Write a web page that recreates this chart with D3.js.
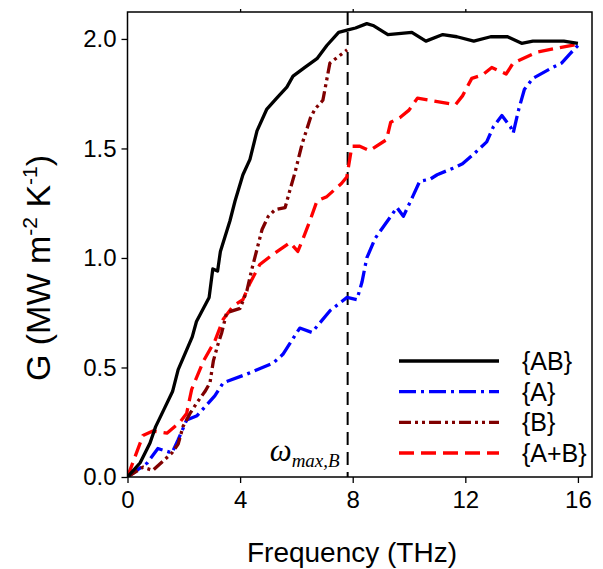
<!DOCTYPE html>
<html>
<head>
<meta charset="utf-8">
<script src="https://cdn.jsdelivr.net/npm/d3@7"></script>
<style>
  body { margin: 0; background: #fff; }
  text { font-family: "Liberation Sans", Arial, sans-serif; }
</style>
</head>
<body>
<div id="chart"></div>
<script>
(function(d3) {
  'use strict';

  // [frequency THz, G]
  var seriesAB = [[0,0],[0.45,0.065],[0.8,0.155],[1.0,0.23],[1.3,0.31],[1.6,0.39],[1.8,0.49],[2.3,0.64],[2.45,0.71],
    [2.9,0.82],[3.03,0.95],[3.2,0.94],[3.3,1.03],[3.64,1.17],[3.82,1.26],[4.1,1.38],[4.35,1.45],[4.6,1.58],[4.95,1.68],
    [5.3,1.73],[5.66,1.78],[5.88,1.83],[6.3,1.87],[6.73,1.91],[7.08,1.97],[7.5,2.03],[7.8,2.04],[8.1,2.05],[8.5,2.07],
    [8.75,2.06],[9.25,2.02],[10.1,2.03],[10.6,1.99],[11.2,2.02],[11.7,2.01],[12.3,1.99],[12.9,2.01],[13.5,2.01],
    [14.0,1.98],[14.4,1.99],[15.0,1.99],[15.5,1.99],[16.0,1.98]];
  var seriesA = [[0,0],[0.7,0.064],[1.08,0.13],[1.58,0.11],[1.8,0.17],[2.1,0.26],[2.47,0.28],[3.1,0.37],[3.4,0.43],
    [4.24,0.47],[5.17,0.52],[5.52,0.56],[6.12,0.68],[6.55,0.66],[7.2,0.76],[7.8,0.82],[8.15,0.81],[8.33,0.89],[8.5,1.0],
    [8.8,1.09],[9.57,1.23],[9.8,1.19],[10.13,1.28],[10.38,1.35],[10.75,1.36],[11.0,1.38],[11.56,1.41],[11.9,1.43],
    [12.26,1.47],[12.76,1.53],[13.0,1.60],[13.3,1.65],[13.6,1.60],[13.7,1.57],[13.9,1.68],[14.1,1.77],[14.4,1.82],
    [15.1,1.87],[15.42,1.89],[15.7,1.93],[16.0,1.97]];
  var seriesB = [[0,0],[0.55,0.045],[0.9,0.03],[1.58,0.11],[1.8,0.15],[1.97,0.23],[2.22,0.29],[2.47,0.34],[2.75,0.39],
    [2.93,0.43],[3.05,0.53],[3.2,0.60],[3.35,0.66],[3.52,0.75],[4.0,0.77],[4.24,0.85],[4.42,0.95],[4.6,1.04],[4.78,1.13],
    [5.0,1.19],[5.24,1.22],[5.6,1.23],[5.77,1.31],[5.95,1.39],[6.2,1.52],[6.5,1.64],[6.66,1.68],[6.94,1.72],[7.19,1.89],
    [7.8,1.95]];
  var seriesAplusB = [[0,0],[0.55,0.19],[0.9,0.21],[1.4,0.20],[1.86,0.25],[2.1,0.29],[2.28,0.40],[2.7,0.53],[3.1,0.62],
    [3.4,0.72],[3.75,0.78],[4.1,0.81],[4.35,0.885],[4.7,0.97],[5.1,1.01],[5.77,1.07],[6.05,1.03],[6.24,1.09],[6.48,1.17],
    [6.73,1.26],[7.08,1.28],[7.6,1.34],[7.79,1.37],[7.97,1.51],[8.25,1.51],[8.6,1.49],[9.2,1.54],[9.35,1.62],[9.67,1.64],
    [10.0,1.675],[10.3,1.73],[11.65,1.70],[11.9,1.74],[12.23,1.82],[12.6,1.835],[12.94,1.87],[13.45,1.84],[13.7,1.89],
    [14.54,1.94],[15.95,1.975]];

  var seriesNames = ['{AB}', '{A}', '{B}', '{A+B}'];
  var xTicks = [0, 4, 8, 12, 16];
  var yTicks = [0, 0.5, 1.0, 1.5, 2.0];
  var omegaMaxB = 7.82;

  var styles = [
    { color: '#000000', dash: null },
    { color: '#0000ff', dash: '17,5,3,5' },
    { color: '#800000', dash: '12,4,3,4,3,4' },
    { color: '#ff0000', dash: '15,7' }
  ];
  var allSeries = [seriesAB, seriesA, seriesB, seriesAplusB];

  var width = 603, height = 569;
  var margin = { top: 12, right: 11, bottom: 92, left: 127.5 };

  var svg = d3.select('#chart').append('svg')
    .attr('width', width)
    .attr('height', height);

  var x = d3.scaleLinear().domain([0, 16.5]).range([margin.left, width - margin.right]);
  var y = d3.scaleLinear().domain([0, 2.123]).range([height - margin.bottom, margin.top]);

  svg.append('clipPath').attr('id', 'plotclip')
    .append('rect')
    .attr('x', margin.left).attr('y', margin.top)
    .attr('width', x.range()[1] - margin.left)
    .attr('height', y.range()[0] - margin.top);

  // vertical marker line
  svg.append('line')
    .attr('x1', x(omegaMaxB)).attr('x2', x(omegaMaxB))
    .attr('y1', y.range()[1]).attr('y2', y.range()[0])
    .attr('stroke', '#000').attr('stroke-width', 2)
    .attr('stroke-dasharray', '13,7');

  var line = d3.line()
    .x(function(d) { return x(d[0]); })
    .y(function(d) { return y(d[1]); });

  var plot = svg.append('g').attr('clip-path', 'url(#plotclip)');
  // draw order: A, A+B, B, AB on top
  [1, 3, 2, 0].forEach(function(i) {
    plot.append('path')
      .datum(allSeries[i])
      .attr('d', line)
      .attr('fill', 'none')
      .attr('stroke', styles[i].color)
      .attr('stroke-width', 3.3)
      .attr('stroke-linejoin', 'round')
      .attr('stroke-dasharray', styles[i].dash);
  });

  // axes
  var xAxis = svg.append('g')
    .attr('transform', 'translate(0,' + y.range()[0] + ')')
    .call(d3.axisBottom(x).tickValues(xTicks).tickSize(6).tickPadding(8).tickFormat(d3.format('d')));
  var xTop = svg.append('g')
    .attr('transform', 'translate(0,' + margin.top + ')')
    .call(d3.axisTop(x).tickValues(xTicks.slice(1, 4)).tickSize(3).tickFormat(''));
  var yAxis = svg.append('g')
    .attr('transform', 'translate(' + margin.left + ',0)')
    .call(d3.axisLeft(y).tickValues(yTicks).tickSize(6).tickPadding(5).tickFormat(d3.format('.1f')));

  [xAxis, xTop, yAxis].forEach(function(a) {
    a.select('.domain').remove();
    a.selectAll('.tick line').attr('stroke', '#000').attr('stroke-width', 1.3);
    a.selectAll('text').attr('fill', '#000').style('font-size', '24px')
      .style('font-family', '"Liberation Sans", Arial, sans-serif');
  });

  // frame
  svg.append('rect')
    .attr('x', margin.left).attr('y', margin.top)
    .attr('width', x.range()[1] - margin.left)
    .attr('height', y.range()[0] - margin.top)
    .attr('fill', 'none').attr('stroke', '#000').attr('stroke-width', 1.5);

  // axis titles
  svg.append('text')
    .attr('x', 352)
    .attr('y', 562)
    .attr('text-anchor', 'middle')
    .style('font-size', '28px')
    .text('Frequency (THz)');

  var yTitle = svg.append('text')
    .attr('transform', 'translate(50,' + 268 + ') rotate(-90)')
    .attr('text-anchor', 'middle')
    .style('font-size', '34px');
  yTitle.append('tspan').text('G (MW m');
  yTitle.append('tspan').attr('dy', -13).style('font-size', '21px').text('-2');
  yTitle.append('tspan').attr('dy', 13).text(' K');
  yTitle.append('tspan').attr('dy', -13).style('font-size', '21px').text('-1');
  yTitle.append('tspan').attr('dy', 13).text(')');

  // omega label
  var om = svg.append('text')
    .attr('x', x(omegaMaxB) - 8)
    .attr('y', 461)
    .attr('text-anchor', 'end')
    .style('font-family', '"Liberation Serif", "Times New Roman", serif')
    .style('font-style', 'italic');
  om.append('tspan').style('font-size', '31px').text('\u03c9');
  om.append('tspan').attr('dy', 6).style('font-size', '19px').text('max,B');

  // legend
  var legend = svg.append('g');
  var legY = d3.scalePoint().domain(seriesNames).range([361, 453]);
  seriesNames.forEach(function(name, i) {
    legend.append('line')
      .attr('x1', 399).attr('x2', 499)
      .attr('y1', legY(name)).attr('y2', legY(name))
      .attr('stroke', styles[i].color)
      .attr('stroke-width', 3.3)
      .attr('stroke-dasharray', styles[i].dash);
    legend.append('text')
      .attr('x', 522)
      .attr('y', legY(name) + 9)
      .style('font-size', '25px')
      .text(name);
  });
}(d3));
</script>
</body>
</html>
